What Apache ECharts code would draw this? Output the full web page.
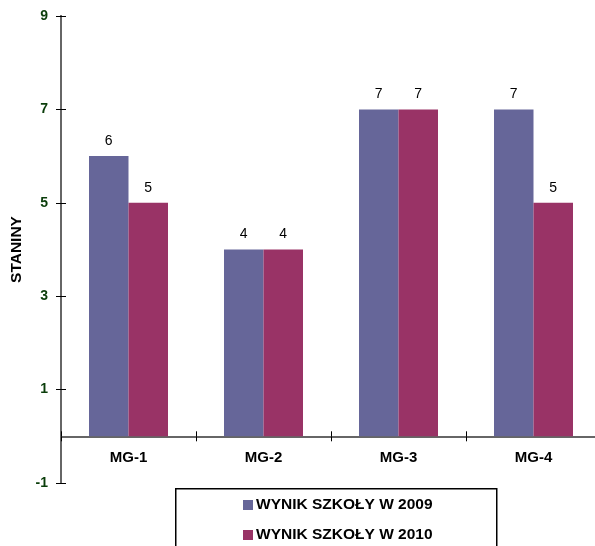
<!DOCTYPE html>
<html><head><meta charset="utf-8">
<script src="https://cdn.jsdelivr.net/npm/echarts@6/dist/echarts.min.js"></script>
<style>html,body{margin:0;padding:0;background:#fff}#c{width:595px;height:546px}</style>
</head><body><div id="c"></div>
<script>
var categories = ['MG-1', 'MG-2', 'MG-3', 'MG-4'];
var series2009 = [6, 4, 7, 7];
var series2010 = [5, 4, 7, 5];
var seriesNames = ['WYNIK SZKOŁY W 2009', 'WYNIK SZKOŁY W 2010'];
var yTicks = [-1, 1, 3, 5, 7, 9];

var chart = echarts.init(document.getElementById('c'), null, {renderer: 'canvas'});
var font = 'Liberation Sans, Arial, sans-serif';
var xBase = {
  type: 'category', data: categories, gridIndex: 0,
  axisLine: {onZero: true, onZeroAxisIndex: 0, lineStyle: {color: '#666', width: 2}},
  splitLine: {show: false}
};
var yBase = {
  type: 'value', min: -1, max: 9, interval: 2,
  splitLine: {show: false},
  axisLine: {show: true, lineStyle: {color: '#666', width: 2}}
};
chart.setOption({
  animation: false,
  grid: {left: 61, top: 16, width: 540, height: 467, outerBoundsMode: 'none', containLabel: false},
  xAxis: [
    Object.assign({}, xBase, {
      position: 'bottom',
      axisLine: {onZero: false, lineStyle: {color: '#666', width: 2}},
      offset: -46.7,
      axisTick: {show: true, length: 5, lineStyle: {color: '#000', width: 1}},
      axisLabel: {fontFamily: font, fontWeight: 'bold', fontSize: 15, color: '#000', margin: 14}
    }),
    Object.assign({}, xBase, {
      position: 'top',
      axisTick: {show: true, length: 5, lineStyle: {color: '#000', width: 1}},
      axisLabel: {show: false}
    })
  ],
  yAxis: [
    Object.assign({}, yBase, {
      name: 'STANINY', nameLocation: 'middle', nameGap: 33,
      nameTextStyle: {fontFamily: font, fontWeight: 'bold', fontSize: 15.5, color: '#000'},
      axisTick: {show: true, length: 5, lineStyle: {color: '#000', width: 1}},
      axisLabel: {fontFamily: font, fontWeight: 'bold', fontSize: 14, color: '#0a3d0a', margin: 13,
        formatter: function(v){ return yTicks.indexOf(v) >= 0 ? String(v) : ''; }}
    }),
    Object.assign({}, yBase, {
      position: 'left',
      axisTick: {show: true, inside: true, length: 5, lineStyle: {color: '#000', width: 1}},
      axisLabel: {show: false}
    })
  ],
  legend: {
    orient: 'vertical', left: 243, top: 497, padding: 0,
    itemWidth: 10, itemHeight: 10, itemGap: 14,
    icon: 'rect',
    textStyle: {fontFamily: font, fontWeight: 'bold', fontSize: 15.5, color: '#000', padding: [0,0,0,-2]},
    data: seriesNames
  },
  graphic: [{
    type: 'rect', left: 175, top: 488, z: -1,
    shape: {width: 321, height: 70},
    style: {fill: '#fff', stroke: '#000', lineWidth: 1.5}
  }],
  series: [
    {name: seriesNames[0], type: 'bar', data: series2009, barWidth: 39.5, barGap: '0%',
     itemStyle: {color: '#666699'},
     label: {show: true, position: 'top', distance: 8, fontFamily: font, fontSize: 14, color: '#000'}},
    {name: seriesNames[1], type: 'bar', data: series2010, barWidth: 39.5, barGap: '0%',
     itemStyle: {color: '#993366'},
     label: {show: true, position: 'top', distance: 8, fontFamily: font, fontSize: 14, color: '#000'}}
  ]
});
</script></body></html>
